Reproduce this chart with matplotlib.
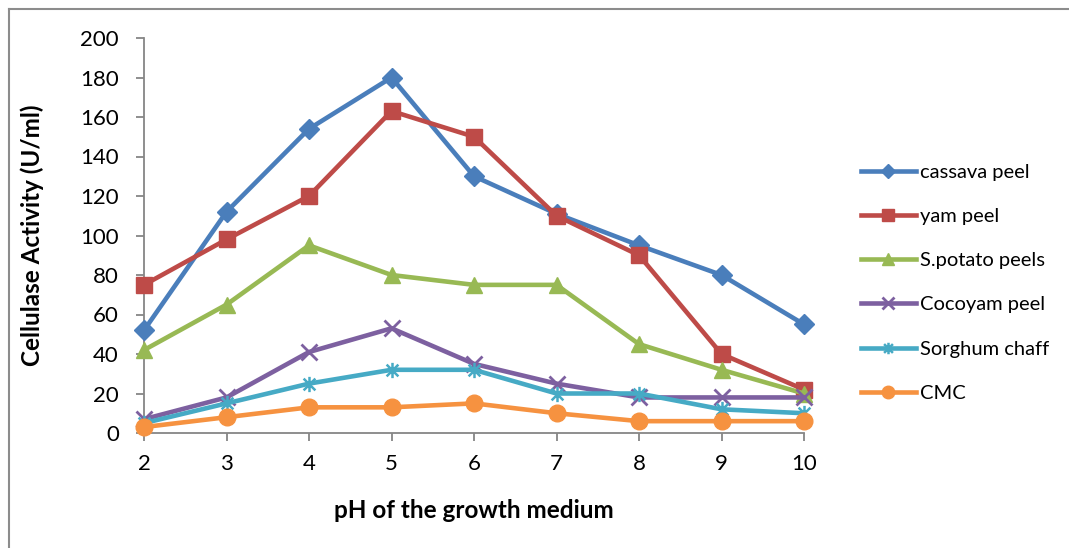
import matplotlib
matplotlib.use("Agg")
import matplotlib.pyplot as plt
from matplotlib.path import Path
from matplotlib.lines import Line2D

# pH of the growth medium
ph = [2, 3, 4, 5, 6, 7, 8, 9, 10]

# Cellulase activity (U/ml) per substrate
cassava_peel = [52, 112, 154, 180, 130, 111, 95, 80, 55]
yam_peel = [75, 98, 120, 163, 150, 110, 90, 40, 22]
s_potato_peels = [42, 65, 95, 80, 75, 75, 45, 32, 20]
cocoyam_peel = [7, 18, 41, 53, 35, 25, 18, 18, 18]
sorghum_chaff = [5, 15, 25, 32, 32, 20, 20, 12, 10]
cmc = [3, 8, 13, 13, 15, 10, 6, 6, 6]

series_names = ["cassava peel", "yam peel", "S.potato peels",
                "Cocoyam peel", "Sorghum chaff", "CMC"]
y_ticks = [0, 20, 40, 60, 80, 100, 120, 140, 160, 180, 200]

plt.rcParams["font.family"] = ["Lato", "DejaVu Sans"]

# asterisk marker: an x crossed by a vertical bar
star_path = Path(
    [(-1, -1), (1, 1), (-1, 1), (1, -1), (0, -1.3), (0, 1.3)],
    [Path.MOVETO, Path.LINETO, Path.MOVETO, Path.LINETO, Path.MOVETO, Path.LINETO],
)

styles = [
    dict(color="#4A7EBB", marker="D", ms=10),
    dict(color="#BE4B48", marker="s", ms=12),
    dict(color="#98B954", marker="^", ms=12),
    dict(color="#7D60A0", marker="x", ms=11, mew=2),
    dict(color="#46AAC5", marker=star_path, ms=11, mew=1.8),
    dict(color="#F69240", marker="o", ms=12),
]
data = [cassava_peel, yam_peel, s_potato_peels, cocoyam_peel, sorghum_chaff, cmc]

fig = plt.figure(figsize=(10.69, 5.48), dpi=100)
ax = fig.add_axes([144 / 1069, 1 - 433 / 548, (804 - 144) / 1069, (433 - 38) / 548])

handles = []
for vals, name, st in zip(data, series_names, styles):
    (h,) = ax.plot(ph, vals, color=st["color"], lw=3.3, marker=st["marker"],
                   ms=st["ms"], mew=st.get("mew", 1), mfc=st["color"],
                   mec=st["color"], label=name, clip_on=False, zorder=3)
    handles.append(h)

ax.set_xlim(2, 10)
ax.set_ylim(0, 200)
ax.set_xticks(ph)
ax.set_yticks(y_ticks)
ax.tick_params(axis="both", labelsize=16, length=6, width=1.3,
               color="#868686", direction="out")
ax.tick_params(axis="y", pad=12)
ax.tick_params(axis="x", pad=9)
for side in ("top", "right"):
    ax.spines[side].set_visible(False)
for side in ("left", "bottom"):
    ax.spines[side].set_color("#868686")
    ax.spines[side].set_linewidth(1.3)

ax.set_xlabel("pH of the growth medium", fontsize=17.5, fontweight="bold", labelpad=18)
ax.set_ylabel("Cellulase Activity (U/ml)", fontsize=17.5, fontweight="bold", labelpad=26)

fig.legend(handles=handles, labels=series_names, loc="upper left",
           bbox_to_anchor=(843 / 1069, 1 - 146 / 548), frameon=False,
           fontsize=14.5, handlelength=2.7, handletextpad=0.2,
           labelspacing=1.34, numpoints=1, markerscale=0.75)

# outer chart-area frame
fig.add_artist(Line2D([8.5 / 1069, 8.5 / 1069], [0, 1 - 9 / 548],
                      transform=fig.transFigure, color="#8C8C8C", lw=1.5))
fig.add_artist(Line2D([8.5 / 1069, 1], [1 - 9 / 548, 1 - 9 / 548],
                      transform=fig.transFigure, color="#8C8C8C", lw=1.5))

fig.savefig("out.png", dpi=100, facecolor="white")
